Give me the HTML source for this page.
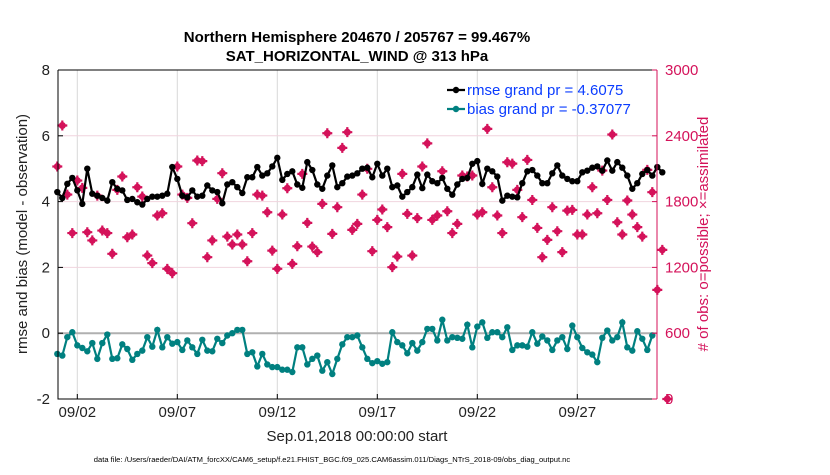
<!DOCTYPE html>
<html><head><meta charset="utf-8">
<style>
body{margin:0;background:#fff;width:830px;height:470px;overflow:hidden;font-family:"Liberation Sans",sans-serif}
</style></head>
<body>
<svg id="chart" width="830" height="470" xmlns="http://www.w3.org/2000/svg" font-family="Liberation Sans, sans-serif">
<g id="grid"></g><g id="series"></g><g id="axes"></g>
</svg>
<script>
const rmse=[4.29,4.11,4.54,4.72,4.34,3.93,5.0,4.24,4.18,4.11,4.03,4.59,4.39,4.34,4.05,4.08,3.98,3.91,4.08,4.15,4.15,4.18,4.24,5.05,4.69,4.18,4.13,4.34,4.15,4.18,4.49,4.34,4.29,3.95,4.52,4.59,4.44,4.26,4.74,4.74,5.05,
4.79,4.86,5.07,5.33,4.66,4.84,4.92,4.52,4.42,5.2,4.96,4.52,4.39,4.79,5.1,4.44,4.56,4.76,4.79,4.86,5.0,5.03,4.74,5.15,4.79,5.0,4.44,4.49,4.15,4.29,4.44,4.82,4.41,4.82,4.62,4.56,4.72,4.39,4.21,4.52,
4.69,4.72,5.15,5.23,4.54,5.0,4.92,4.76,4.03,4.18,4.15,4.13,4.56,4.92,4.96,4.79,4.56,4.56,4.86,5.1,4.79,4.69,4.62,4.62,4.89,4.94,5.03,5.07,4.94,5.25,4.94,5.2,5.03,4.79,4.39,4.56,4.84,4.96,4.79,5.05,4.89];
const bias=[-0.63,-0.68,-0.12,0.03,-0.37,-0.45,-0.55,-0.3,-0.78,-0.3,-0.04,-0.78,-0.76,-0.34,-0.48,-0.81,-0.63,-0.53,-0.12,-0.41,0.1,-0.43,-0.12,-0.32,-0.27,-0.51,-0.22,-0.43,-0.63,-0.2,-0.53,-0.55,-0.17,-0.3,-0.07,0.0,0.1,0.1,-0.63,-0.58,-1.01,
-0.63,-0.95,-1.03,-1.03,-1.11,-1.11,-1.18,-0.43,-0.43,-0.95,-0.78,-0.68,-1.14,-0.88,-1.24,-0.78,-0.34,-0.12,-0.12,-0.07,-0.43,-0.78,-0.91,-0.85,-0.93,-0.88,0.03,-0.27,-0.37,-0.61,-0.3,-0.53,-0.27,0.13,0.13,-0.22,0.41,-0.22,-0.12,-0.14,
-0.17,0.26,-0.43,0.2,0.33,-0.14,0.03,0.03,-0.12,0.18,-0.51,-0.37,-0.37,-0.41,0.03,-0.32,-0.1,-0.22,-0.51,-0.22,-0.12,-0.48,0.23,-0.12,-0.45,-0.58,-0.65,-0.88,-0.14,0.08,-0.22,-0.12,0.33,-0.43,-0.53,0.06,-0.17,-0.51,-0.07];
const obsCount=[2120,2494,1864,1513,1992,1925,1521,1446,1855,1536,1513,1324,1907,2029,1475,1500,1931,1846,1308,1239,1673,1694,1187,1147,2120,1864,1834,1603,2175,2169,1293,1446,1825,2059,1481,1409,1500,1409,1256,1513,1864,
1855,1703,1353,1187,1682,1922,1232,1393,2053,1606,1390,1339,1779,2423,1506,1749,2290,2433,1542,1597,1864,2099,1348,1633,1728,1567,1202,1299,2053,1688,1308,1649,2120,2331,1633,1673,2077,1712,1513,1597,2038,
2029,2038,1682,1703,2463,1931,1673,1513,2159,2146,1907,1658,2180,1815,1560,1293,1451,1749,1530,1339,1718,1724,1500,1500,1682,1931,1694,2083,1815,2412,1612,1500,1810,1682,1567,1481,2089,1886,995,1360,0];
const xTickLabels=["09/02","09/07","09/12","09/17","09/22","09/27"];
const xTickDays=[1,6,11,16,21,26];
const yTicks=[8,6,4,2,0,-2];
const y2Ticks=[3000,2400,1800,1200,600,0];

const L=58,R=657,T=70,B=399;
const xs=d=>57.3+d*20;
const ys=v=>T+(8-v)/10*(B-T);
const ys2=v=>B-v/3000*(B-T);
const NS="http://www.w3.org/2000/svg";
function mk(tag,attrs,parent,txt){const e=document.createElementNS(NS,tag);for(const k in attrs)e.setAttribute(k,attrs[k]);if(txt!==undefined)e.textContent=txt;parent.appendChild(e);return e;}
const grid=document.getElementById('grid'),ser=document.getElementById('series'),ax=document.getElementById('axes');
const PINK="#d4125a";
xTickDays.forEach(d=>{const l=mk('line',{x1:xs(d),x2:xs(d),y1:T,y2:B,stroke:'#d8d8d8','stroke-width':1},grid);

});
y2Ticks.forEach(v=>{if(v===0||v===3000||v===600)return;const l=mk('line',{x1:L,x2:R,y1:ys2(v),y2:ys2(v),stroke:'#f0d4de','stroke-width':1},grid);

});
const zl=mk('line',{x1:L,x2:R,y1:ys(0),y2:ys(0),stroke:'#b0b0b0','stroke-width':2},grid);


const obsG=mk('g',{},ser);


const step=0.25;
obsCount.forEach((c,i)=>{const x=xs(i*step),y=ys2(c);
const g=mk('g',{},obsG);


mk('circle',{cx:x,cy:y,r:3.5,fill:PINK},g);
mk('path',{d:`M${x-5} ${y}H${x+5}M${x} ${y-5}V${y+5}`,stroke:PINK,'stroke-width':2.2},g);});
function line(vals,color,name){
const pts=vals.map((v,i)=>xs(i*step).toFixed(1)+','+ys(v).toFixed(1)).join(' ');
const g=mk('g',{},ser);


mk('polyline',{points:pts,fill:'none',stroke:color,'stroke-width':2.2},g);
vals.forEach((v,i)=>{const c=mk('circle',{cx:xs(i*step),cy:ys(v),r:3.2,fill:color},g);

});}
line(rmse,'#000','rmse-series');
line(bias,'#008080','bias-series');
const fr=mk('path',{d:`M${L} ${T}H${R}M${L} ${T}V${B}H${R}`,stroke:'#000','stroke-width':1,fill:'none'},ax);


const ra=mk('line',{x1:R,x2:R,y1:T,y2:B,stroke:PINK,'stroke-width':1},ax);


yTicks.forEach(v=>{mk('line',{x1:L,x2:L+5,y1:ys(v),y2:ys(v),stroke:'#000'},ax);
const t=mk('text',{x:L-8,y:ys(v)+5,'text-anchor':'end','font-size':15,fill:'#222'},ax,String(v));

});
y2Ticks.forEach(v=>{mk('line',{x1:R-5,x2:R,y1:ys2(v),y2:ys2(v),stroke:PINK},ax);
const t=mk('text',{x:R+8,y:ys2(v)+5,'font-size':15,fill:PINK},ax,String(v));

});
xTickDays.forEach((d,i)=>{mk('line',{x1:xs(d),x2:xs(d),y1:B,y2:B-5,stroke:'#000'},ax);
const t=mk('text',{x:xs(d),y:B+18,'text-anchor':'middle','font-size':15,fill:'#222'},ax,xTickLabels[i]);

});
const lg=mk('g',{},ax);


[['#000','rmse grand pr = 4.6075',90],['#008080','bias grand pr = -0.37077',109]].forEach(([c,s,y])=>{
mk('line',{x1:447,x2:465,y1:y,y2:y,stroke:c,'stroke-width':2.2},lg);
mk('circle',{cx:456,cy:y,r:3.2,fill:c},lg);
const t=mk('text',{x:467,y:y+5,'font-size':15,fill:'#0a3cff'},lg,s);

});
</script>
<svg style="position:absolute;left:0;top:0" width="830" height="470" font-family="Liberation Sans, sans-serif">
<text x="357" y="42" text-anchor="middle" font-size="15" font-weight="bold">Northern Hemisphere 204670 / 205767 = 99.467%</text>
<text x="357" y="61" text-anchor="middle" font-size="15" font-weight="bold">SAT_HORIZONTAL_WIND @ 313 hPa</text>
<text transform="translate(27,234) rotate(-90)" text-anchor="middle" font-size="15" fill="#222">rmse and bias (model - observation)</text>
<text transform="translate(708,234) rotate(-90)" text-anchor="middle" font-size="15" fill="#d4125a"># of obs: o=possible; ×=assimilated</text>
<text x="357" y="441" text-anchor="middle" font-size="15" fill="#222">Sep.01,2018 00:00:00 start</text>
<text x="332" y="462" text-anchor="middle" font-size="7.6" fill="#000">data file: /Users/raeder/DAI/ATM_forcXX/CAM6_setup/f.e21.FHIST_BGC.f09_025.CAM6assim.011/Diags_NTrS_2018-09/obs_diag_output.nc</text>
</svg>
</body></html>
